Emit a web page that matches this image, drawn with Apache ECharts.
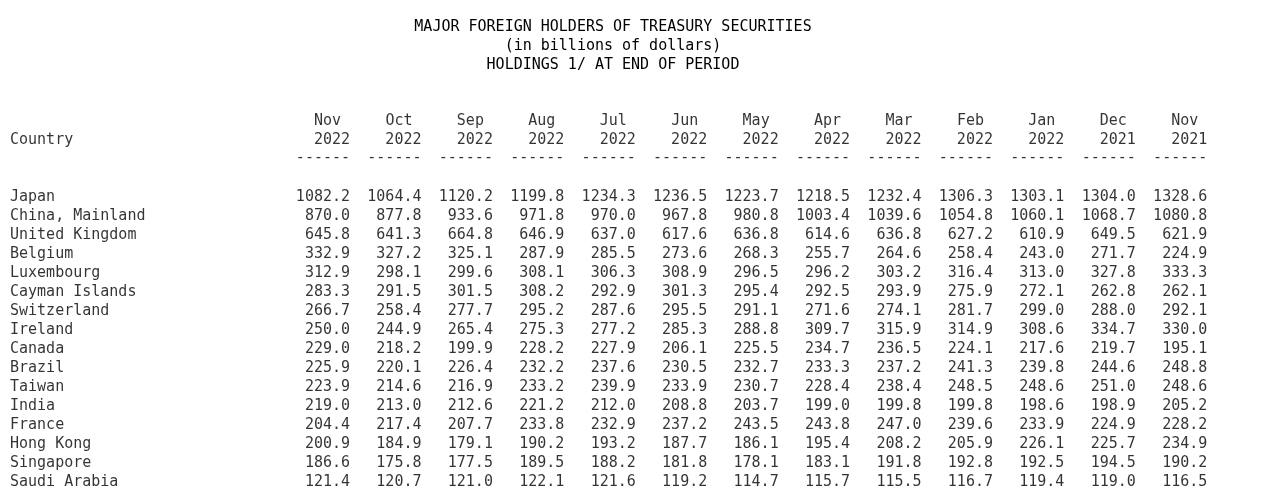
<!DOCTYPE html>
<html><head><meta charset="utf-8">
<script src="https://cdn.jsdelivr.net/npm/echarts@6/dist/echarts.min.js"></script>
<style>html,body{margin:0;background:#fff}#c{width:1268px;height:492px}</style>
</head><body><div id="c"></div>
<script>
// ── Data ───────────────────────────────────────
const months = ['Nov','Oct','Sep','Aug','Jul','Jun','May','Apr','Mar','Feb','Jan','Dec','Nov'];
const years  = ['2022','2022','2022','2022','2022','2022','2022','2022','2022','2022','2022','2021','2021'];
const countries = ['Japan','China, Mainland','United Kingdom','Belgium','Luxembourg','Cayman Islands',
  'Switzerland','Ireland','Canada','Brazil','Taiwan','India','France','Hong Kong','Singapore','Saudi Arabia'];
const holdings = [
  [1082.2,1064.4,1120.2,1199.8,1234.3,1236.5,1223.7,1218.5,1232.4,1306.3,1303.1,1304.0,1328.6],
  [870.0,877.8,933.6,971.8,970.0,967.8,980.8,1003.4,1039.6,1054.8,1060.1,1068.7,1080.8],
  [645.8,641.3,664.8,646.9,637.0,617.6,636.8,614.6,636.8,627.2,610.9,649.5,621.9],
  [332.9,327.2,325.1,287.9,285.5,273.6,268.3,255.7,264.6,258.4,243.0,271.7,224.9],
  [312.9,298.1,299.6,308.1,306.3,308.9,296.5,296.2,303.2,316.4,313.0,327.8,333.3],
  [283.3,291.5,301.5,308.2,292.9,301.3,295.4,292.5,293.9,275.9,272.1,262.8,262.1],
  [266.7,258.4,277.7,295.2,287.6,295.5,291.1,271.6,274.1,281.7,299.0,288.0,292.1],
  [250.0,244.9,265.4,275.3,277.2,285.3,288.8,309.7,315.9,314.9,308.6,334.7,330.0],
  [229.0,218.2,199.9,228.2,227.9,206.1,225.5,234.7,236.5,224.1,217.6,219.7,195.1],
  [225.9,220.1,226.4,232.2,237.6,230.5,232.7,233.3,237.2,241.3,239.8,244.6,248.8],
  [223.9,214.6,216.9,233.2,239.9,233.9,230.7,228.4,238.4,248.5,248.6,251.0,248.6],
  [219.0,213.0,212.6,221.2,212.0,208.8,203.7,199.0,199.8,199.8,198.6,198.9,205.2],
  [204.4,217.4,207.7,233.8,232.9,237.2,243.5,243.8,247.0,239.6,233.9,224.9,228.2],
  [200.9,184.9,179.1,190.2,193.2,187.7,186.1,195.4,208.2,205.9,226.1,225.7,234.9],
  [186.6,175.8,177.5,189.5,188.2,181.8,178.1,183.1,191.8,192.8,192.5,194.5,190.2],
  [121.4,120.7,121.0,122.1,121.6,119.2,114.7,115.7,115.5,116.7,119.4,119.0,116.5]
];

// ── Build cells ────────────────────────────────
const FONT = '"DejaVu Sans Mono", "Liberation Mono", monospace';
const numCells = [], monthCells = [], headCells = [], nameCells = [];
months.forEach((m, c) => {
  monthCells.push({ value: [c, -4], txt: m });
  headCells.push({ value: [c, -3], txt: years[c] });
  headCells.push({ value: [c, -2.05], txt: '------' });
});
holdings.forEach((row, r) => row.forEach((v, c) => numCells.push({ value: [c, r], txt: v.toFixed(1) })));
nameCells.push({ value: [-4.76, -3], txt: 'Country' });
countries.forEach((n, r) => nameCells.push({ value: [-4.76, r], txt: n }));

function textSeries(data, align, dx) {
  return {
    type: 'scatter', data: data, symbolSize: 0, silent: true, animation: false,
    itemStyle: { color: '#000' },
    label: {
      show: true, position: [dx || 0, 0], align: align, verticalAlign: 'middle',
      fontFamily: FONT, fontSize: 15, color: '#000',
      formatter: p => p.data.txt
    }
  };
}

const chart = echarts.init(document.getElementById('c'));
chart.setOption({
  backgroundColor: '#fff',
  title: {
    text: 'MAJOR FOREIGN HOLDERS OF TREASURY SECURITIES\n(in billions of dollars)\nHOLDINGS 1/ AT END OF PERIOD',
    left: 608, top: 13, textAlign: 'center',
    textStyle: { fontFamily: FONT, fontSize: 15, fontWeight: 'normal', color: '#000', lineHeight: 19, align: 'center' }
  },
  grid: { left: 0, top: 0, width: 1268, height: 492 },
  xAxis: { type: 'value', min: -4.9, max: 12.85, show: false },
  yAxis: { type: 'value', inverse: true, min: -10.37, max: 15.53, show: false },
  series: [
    textSeries(numCells, 'right'),
    textSeries(monthCells, 'right', -9),
    textSeries(headCells, 'right'),
    textSeries(nameCells, 'left')
  ]
});
</script></body></html>
